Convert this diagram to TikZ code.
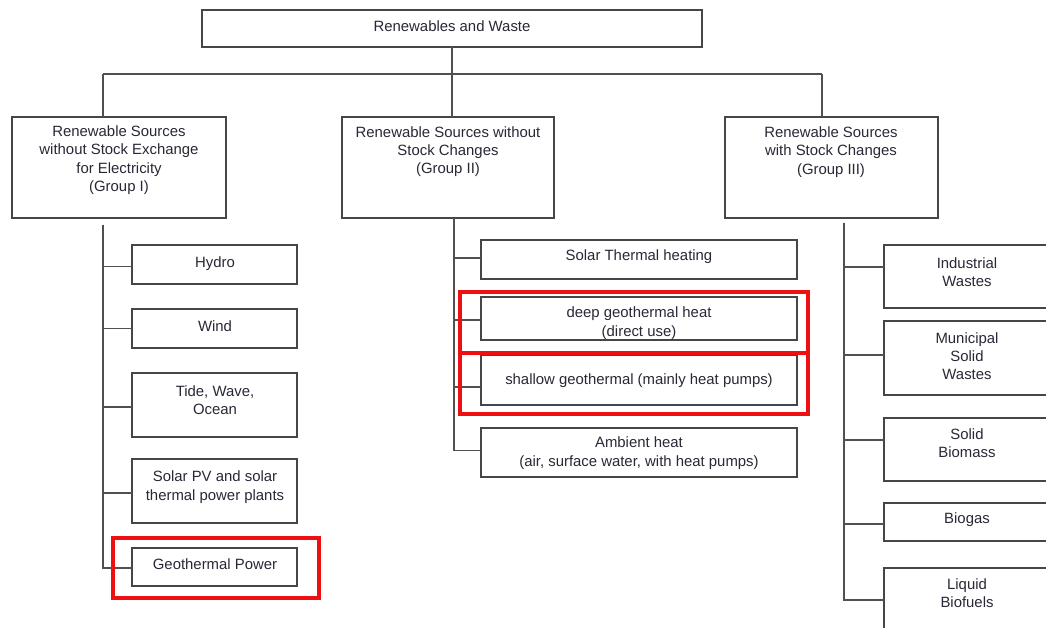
\documentclass[tikz,border=0pt]{standalone}
\usepackage{fontspec}
\setmainfont{Liberation Sans}
\definecolor{linegray}{RGB}{80,80,80}
\definecolor{boxgray}{RGB}{70,70,70}
\definecolor{txt}{RGB}{40,40,55}
\definecolor{hl}{RGB}{238,16,16}
\tikzset{
  box/.style={draw=boxgray, line width=1.7pt, fill=white, inner sep=0pt, outer sep=0pt},
  lbl/.style={align=center, inner sep=0pt, text=txt, font=\fontsize{14.9}{18.3}\selectfont},
  conn/.style={draw=linegray, line width=1.7pt},
  hlbox/.style={draw=hl, line width=4pt}
}
\newcommand{\bx}[5]{\node[box, minimum width={#4-#2}, minimum height={#5-#3}] (#1) at ({(#2+#4)/2},{(#3+#5)/2}) {};}
\begin{document}
\begin{tikzpicture}[x=1pt,y=-1pt]
\clip (0,0) rectangle (1046,628);
\fill[white] (0,0) rectangle (1046,628);

% top box and groups
\bx{top}{202}{10}{702}{47}
\bx{g1}{12}{117}{226}{218}
\bx{g2}{342}{117}{554}{218}
\bx{g3}{725}{117}{938}{218}

% group I children
\bx{hydro}{132}{245}{297}{284}
\bx{wind}{132}{309}{297}{348}
\bx{tide}{132}{373}{297}{437}
\bx{solarpv}{132}{459}{297}{523}
\bx{geop}{132}{548}{297}{586}

% group II children
\bx{sth}{481}{240}{797}{279}
\bx{deep}{481}{297}{797}{340}
\bx{shallow}{481}{355}{797}{405}
\bx{amb}{481}{428}{797}{477}

% group III children
\bx{ind}{884}{245}{1050}{308}
\bx{muni}{884}{321}{1050}{395}
\bx{sbio}{884}{418}{1050}{481}
\bx{biogas}{884}{503}{1050}{541}
\bx{liq}{884}{568}{1050}{660}

% connectors top level
\coordinate (h1) at (103,74);
\coordinate (h3) at (822,74);
\draw[conn] (h1) -- (h3);
\draw[conn] (top.south) -- (top.south |- g2.north);
\draw[conn] (h1) -- (h1 |- g1.north);
\draw[conn] (h3) -- (h3 |- g3.north);

% trunks
\coordinate (t1) at (103,225);
\coordinate (t2) at (454,218);
\coordinate (t3) at (844,223);
\draw[conn] (t1) |- ([yshift=-2pt]hydro.west);
\draw[conn] (t1) |- (wind.west);
\draw[conn] (t1) |- ([yshift=-2pt]tide.west);
\draw[conn] (t1) |- ([yshift=-2pt]solarpv.west);
\draw[conn] (t1) |- ([yshift=-1pt]geop.west);

\draw[conn] (t2) |- ([yshift=1.5pt]sth.west);
\draw[conn] (t2) |- ([yshift=-1.5pt]deep.west);
\draw[conn] (t2) |- ([yshift=-7pt]shallow.west);
\draw[conn] (t2) |- ([yshift=2pt]amb.west);

\draw[conn] (t3) |- ([yshift=9.5pt]ind.west);
\draw[conn] (t3) |- ([yshift=3pt]muni.west);
\draw[conn] (t3) |- ([yshift=9.5pt]sbio.west);
\draw[conn] (t3) |- ([yshift=-2pt]biogas.west);
\draw[conn] (t3) |- ([yshift=14pt]liq.west);

% labels
\node[lbl] (ltop) at (452,26) {Renewables and Waste};
\node[lbl] (lg1) at (119,160) {Renewable Sources\\without Stock Exchange\\for Electricity\\(Group I)};
\node[lbl] (lg2) at (448,151.5) {Renewable Sources without\\Stock Changes\\(Group II)};
\node[lbl] (lg3) at (831,152) {Renewable Sources\\with Stock Changes\\(Group III)};

\node[lbl] at (215,264) {Hydro};
\node[lbl] at (215,326) {Wind};
\node[lbl] at (215,400) {Tide, Wave,\\Ocean};
\node[lbl] at (215,487) {Solar PV and solar\\thermal power plants};
\node[lbl] at (215,564) {Geothermal Power};

\node[lbl] at (639,257) {Solar Thermal heating};
\node[lbl] at (639,323) {deep geothermal heat\\(direct use)};
\node[lbl] at (639,381) {shallow geothermal (mainly heat pumps)};
\node[lbl] at (639,453) {Ambient heat\\(air, surface water, with heat pumps)};

\node[lbl] at (967,272) {Industrial\\Wastes};
\node[lbl] at (967,356) {Municipal\\Solid\\Wastes};
\node[lbl] at (967,443) {Solid\\Biomass};
\node[lbl] at (967,520) {Biogas};
\node[lbl] at (967,593) {Liquid\\Biofuels};

% red highlights
\draw[hlbox] (113,538) rectangle (319,598);
\draw[hlbox] (460,292) rectangle (808,353);
\draw[hlbox] (460,353) rectangle (808,414);
\end{tikzpicture}
\end{document}
